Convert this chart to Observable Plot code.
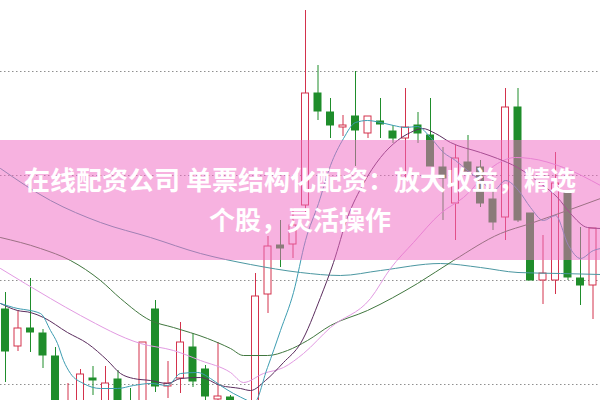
<!DOCTYPE html>
<html><head><meta charset="utf-8">
<script src="https://cdn.jsdelivr.net/npm/d3@7"></script>
<script src="https://cdn.jsdelivr.net/npm/@observablehq/plot@0.6"></script>
<style>
html,body{margin:0;padding:0;background:#fff;}
#wrap{position:relative;width:600px;height:400px;overflow:hidden;}
#banner{position:absolute;left:0;top:140px;width:600px;height:120px;background:rgba(240,108,196,0.52);color:#fff;font-family:"Noto Sans CJK SC","Noto Sans",sans-serif;font-weight:700;font-size:26px;line-height:40px;text-align:center;padding-top:19px;box-sizing:border-box;white-space:nowrap;}
</style></head><body>
<div id="wrap"><div id="chart"></div><div id="banner"><div>在线配资公司 单票结构化配资：放大收益，精选</div><div>个股，灵活操作</div></div></div>
<script>
// Daily candles (price units), left to right
const open  = [8.91, 8.54, 8.72, 8.67, 8.44, 7.82, 7.90, 8.22, 7.92, 8.21, 7.98, 7.95, 8.91, 8.14, 8.22, 8.53, 8.31, 8.01, 8.03, 7.78, 7.92, 9.06, 9.55, 9.56, 9.95, 11.07, 10.88, 10.73, 10.84, 10.67, 10.79, 10.69, 10.62, 10.75, 10.65, 10.33, 9.97, 10.38, 10.33, 10.01, 9.83, 10.93, 9.87, 9.20, 9.20, 10.07, 9.22, 9.15];
const high  = [9.08, 8.90, 9.22, 8.71, 8.53, 8.17, 8.31, 8.34, 8.34, 8.30, 8.12, 8.58, 9.00, 8.39, 8.78, 8.67, 8.35, 8.58, 8.05, 7.97, 9.27, 9.64, 9.80, 9.92, 11.90, 11.35, 11.02, 10.85, 11.29, 10.84, 11.02, 10.75, 11.12, 10.88, 11.02, 10.53, 10.55, 10.65, 10.40, 10.22, 11.12, 11.12, 9.87, 9.65, 10.48, 10.10, 9.73, 9.72];
const low   = [8.18, 8.49, 8.48, 8.32, 7.80, 7.75, 7.85, 8.05, 7.88, 7.90, 7.80, 7.90, 8.08, 8.02, 8.07, 8.13, 7.95, 7.95, 7.80, 7.70, 7.88, 8.87, 9.33, 9.42, 9.88, 10.80, 10.62, 10.64, 10.34, 10.62, 10.62, 10.57, 10.20, 10.57, 10.34, 9.80, 9.60, 10.28, 9.93, 9.70, 9.60, 9.78, 9.20, 8.96, 9.06, 9.20, 8.95, 8.81];
const close = [8.49, 8.72, 8.68, 8.45, 7.88, 7.95, 8.26, 8.20, 8.17, 7.95, 7.85, 8.58, 8.14, 8.17, 8.58, 8.19, 8.04, 8.04, 7.85, 7.92, 9.04, 9.54, 9.52, 9.75, 11.07, 10.89, 10.75, 10.75, 10.70, 10.84, 10.76, 10.62, 10.73, 10.67, 10.34, 10.22, 10.42, 10.29, 9.97, 9.78, 10.93, 9.80, 9.20, 9.27, 10.17, 9.23, 9.15, 9.72];

// Price grid levels
const gridPrices = [11.29, 10.25, 9.20, 8.16];

// Moving averages: [candle index, price]
const ma5 = [[-0.4,8.97],[0.64,8.93],[2.8,8.87],[3.6,8.70],[4.16,8.57],[4.64,8.40],[5.2,8.27],[6.24,8.17],[7.6,8.12],[8.96,8.12],[10.24,8.15],[11.6,8.17],[12.96,8.15],[14,8.27],[15.36,8.28],[16.4,8.22],[17.2,8.15],[18.24,8.07],[19.36,8.00],[19.84,7.97],[20.96,8.33],[22,8.70],[23.04,9.08],[24,9.60],[25.04,9.97],[26,10.35],[27.04,10.62],[28,10.78],[28.96,10.80],[30,10.78],[31.04,10.75],[32,10.73],[32.96,10.74],[34,10.63],[35.04,10.48],[36,10.40],[36.96,10.30],[38,10.20],[39.04,10.10],[40,10.20],[41.04,10.10],[42,9.93],[43.04,9.80],[44,9.85],[45.04,9.55],[46,9.42],[47.04,9.50],[47.6,9.52]];
const ma10 = [[-0.4,8.97],[0.96,8.90],[2,8.88],[3.04,8.83],[4.96,8.68],[6.56,8.57],[8.16,8.40],[9.2,8.27],[10.24,8.22],[11.6,8.20],[12.96,8.17],[14,8.22],[15.6,8.23],[17.2,8.15],[18.8,8.12],[19.6,8.10],[20.8,8.20],[22.24,8.38],[23.6,8.57],[25.2,9.03],[26.24,9.38],[27.36,9.83],[28.64,10.17],[30,10.43],[31.36,10.60],[32.4,10.68],[33.36,10.72],[34.4,10.67],[35.6,10.58],[38,10.48],[39.36,10.42],[40.96,10.33],[42.8,10.17],[44.16,10.03],[45.2,9.87],[46.56,9.73],[47.6,9.72]];
const ma20 = [[-0.4,9.32],[3.6,9.02],[6,8.85],[10.8,8.57],[13.44,8.50],[15.6,8.40],[18,8.28],[19.04,8.18],[20.64,8.27],[22.24,8.33],[23.84,8.47],[26,8.73],[29.2,9.02],[30.8,9.32],[32.64,9.58],[34.8,9.87],[36.64,10.03],[39.36,10.37],[40.8,10.43],[42,10.42],[44.64,10.33],[47.6,10.15]];
const ma30 = [[-0.4,9.63],[2.8,9.52],[5.2,9.40],[7.6,9.20],[9.2,9.02],[11.6,8.80],[13.44,8.73],[16.16,8.62],[18,8.52],[19.04,8.45],[20.96,8.45],[22.56,8.50],[24.16,8.60],[26,8.75],[28.96,8.90],[32.96,9.17],[35.84,9.40],[39.6,9.67],[42,9.77],[44.96,9.90],[47.6,10.02]];
const ma60 = [[-0.4,10.32],[3.6,10.00],[7.6,9.78],[11.6,9.63],[15.6,9.47],[19.6,9.36],[23.6,9.28],[26.8,9.25],[30,9.30],[34.8,9.37],[38,9.33],[41,9.28],[44.4,9.27],[47.6,9.26]];

const RED = "#d3324c", GREEN = "#1f8d2b";
const candles = open.map((o, i) => ({i, open: o, high: high[i], low: low[i], close: close[i], up: close[i] >= o}));

const maLine = (pts, color) => Plot.line(pts, {x: d => d[0], y: d => d[1], stroke: color, strokeWidth: 1, curve: "monotone-x"});

const chart = Plot.plot({
  width: 600, height: 400, margin: 0,
  x: {domain: [-0.4, 47.6], axis: null},
  y: {domain: [8, 12], axis: null},
  color: {type: "identity"},
  style: {background: "white"},
  marks: [
    Plot.ruleY(gridPrices, {stroke: "#8f8f8f", strokeDasharray: "1.5,2.5"}),
    Plot.ruleX(candles, {x: "i", y1: "low", y2: "high", stroke: d => d.up ? RED : GREEN}),
    Plot.rect(candles, {x1: d => d.i - 0.28, x2: d => d.i + 0.28, y1: "open", y2: "close", fill: d => d.up ? "white" : GREEN, stroke: d => d.up ? RED : GREEN}),
    maLine(ma60, "#4b97a1"),
    maLine(ma30, "#41773f"),
    maLine(ma20, "#e29ae2"),
    maLine(ma10, "#5b2d5e"),
    maLine(ma5, "#3e9db2")
  ]
});
document.getElementById("chart").appendChild(chart);
</script>
</body></html>
